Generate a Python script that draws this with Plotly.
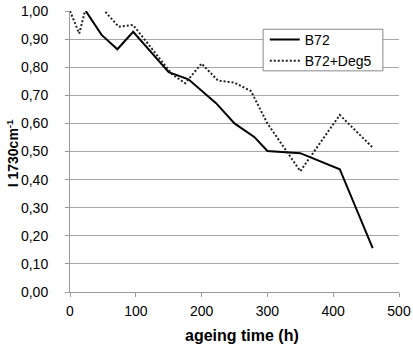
import plotly.graph_objects as go

# B72 (solid)
b72_time = [24, 48, 72, 96, 150, 180, 222, 250, 280, 300, 350, 410, 460]
b72_val = [1.00, 0.915, 0.864, 0.926, 0.782, 0.757, 0.672, 0.600, 0.552, 0.502, 0.494, 0.437, 0.156]

# B72+Deg5 (dotted)
deg5_time = [0, 14, 24, 48, 74, 96, 155, 175, 200, 225, 250, 275, 300, 350, 410, 460]
deg5_val = [1.00, 0.92, 1.01, 1.012, 0.944, 0.95, 0.775, 0.743, 0.813, 0.752, 0.745, 0.715, 0.600, 0.430, 0.630, 0.514]

x_ticks = [0, 100, 200, 300, 400, 500]
y_ticks = [0.0, 0.1, 0.2, 0.3, 0.4, 0.5, 0.6, 0.7, 0.8, 0.9, 1.0]

font = "Liberation Sans, Arial, sans-serif"

fig = go.Figure()
fig.add_trace(go.Scatter(x=b72_time, y=b72_val, mode="lines", name="B72",
                         line=dict(color="black", width=2)))
fig.add_trace(go.Scatter(x=deg5_time, y=deg5_val, mode="lines", name="B72+Deg5",
                         line=dict(color="#222222", width=2, dash="2px,2px")))

# legend frame
fig.add_shape(type="rect", xref="paper", yref="paper",
              x0=0.587, x1=0.951, y0=0.787, y1=0.935,
              line=dict(color="#888888", width=1), fillcolor="white", layer="above")

fig.add_annotation(text="<b>ageing time (h)</b>", xref="paper", yref="paper",
                   x=0.524, y=-0.155, xanchor="center", yanchor="middle",
                   showarrow=False, font=dict(size=16))
fig.add_annotation(text="<b>I 1730cm<sup>-1</sup></b>", xref="paper", yref="paper",
                   x=-0.175, y=0.495, xanchor="center", yanchor="middle", textangle=-90,
                   showarrow=False, font=dict(size=14))

fig.update_layout(
    width=413, height=349,
    margin=dict(l=70, r=14, t=11, b=57, autoexpand=False),
    paper_bgcolor="white", plot_bgcolor="white",
    separators=", ",
    font=dict(family=font, size=14, color="black"),
    showlegend=True,
    legend=dict(x=0.592, y=0.954, xanchor="left", yanchor="top",
                borderwidth=0, bgcolor="rgba(0,0,0,0)",
                font=dict(size=14), itemwidth=30, tracegroupgap=0),
    xaxis=dict(range=[0, 500], tickvals=x_ticks, showgrid=False, zeroline=False,
               showline=True, linecolor="#999999", linewidth=1, automargin=False,
               ticks="outside", ticklen=4, tickcolor="#999999", ticklabelstandoff=2),
    yaxis=dict(range=[0, 1.0], tickvals=y_ticks, tickformat=".2f", automargin=False,
               showgrid=True, gridcolor="#a6a6a6", gridwidth=1, zeroline=False,
               showline=True, linecolor="#999999", linewidth=1,
               ticks="outside", ticklen=4, tickcolor="#999999", ticklabelstandoff=14),
)

fig.write_html("out.html", config={"displayModeBar": False},
               post_script="document.body.style.margin='0';")
